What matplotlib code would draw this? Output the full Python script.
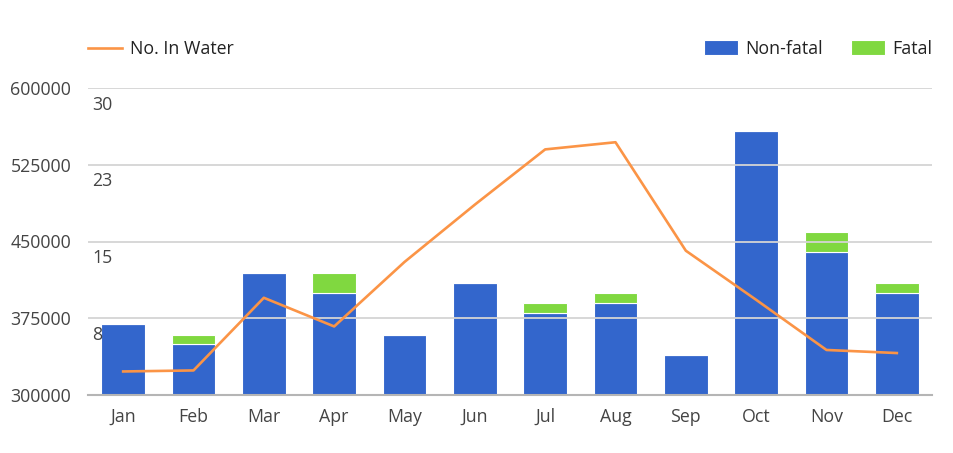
import matplotlib.pyplot as plt
import numpy as np

months = ["Jan", "Feb", "Mar", "Apr", "May", "Jun",
          "Jul", "Aug", "Sep", "Oct", "Nov", "Dec"]
non_fatal = [369000, 350000, 419000, 400000, 359000, 409000,
             380000, 390000, 339000, 558000, 440000, 400000]
fatal = [0, 9000, 0, 19000, 0, 0,
         9500, 9500, 0, 0, 19000, 9000]
in_water = [2.3, 2.4, 9.5, 6.7, 13.0, 18.6,
            24.0, 24.7, 14.1, 9.3, 4.4, 4.1]

left_ticks = [300000, 375000, 450000, 525000, 600000]
right_ticks = [7.5, 15, 22.5, 30]
right_labels = ["8", "15", "23", "30"]

BLUE = "#3366cc"
GREEN = "#80d840"
ORANGE = "#fb9446"
TEXT = "#444444"

plt.rcParams["font.family"] = ["Open Sans", "DejaVu Sans"]
plt.rcParams["font.size"] = 12.8

fig = plt.figure(figsize=(9.54, 4.53), dpi=100)
ax = fig.add_axes([88 / 954, 58 / 453, 844 / 954, 307 / 453])

x = np.arange(len(months))
b1 = ax.bar(x, non_fatal, width=0.62, color=BLUE, edgecolor="white",
            linewidth=0.8, zorder=2, label="Non-fatal")
b2 = ax.bar(x, fatal, width=0.62, bottom=non_fatal, color=GREEN,
            edgecolor="white", linewidth=0.8, zorder=2, label="Fatal")

ax.set_ylim(300000, 600000)
ax.set_xlim(-0.5, len(months) - 0.5)
ax.set_yticks(left_ticks)
ax.set_xticks(x, months)
ax.tick_params(axis="both", length=0, colors=TEXT)
ax.tick_params(axis="y", pad=12)
ax.tick_params(axis="x", pad=9)
for v in left_ticks[1:]:
    ax.axhline(v, color="#d4d4d4", linewidth=1.3, zorder=2.5)
for s in ["top", "right", "left"]:
    ax.spines[s].set_visible(False)
ax.spines["bottom"].set_color("#b5b5b5")
ax.spines["bottom"].set_linewidth(1.5)
ax.spines["bottom"].set_zorder(3)

ax2 = ax.twinx()
ax2.set_ylim(0, 30)
ax2.set_yticks([])
for s in ax2.spines.values():
    s.set_visible(False)
line, = ax2.plot(x, in_water, color=ORANGE, linewidth=1.9, label="No. In Water")
for v, lab in zip(right_ticks, right_labels):
    ax2.annotate(lab, xy=(0, v), xycoords=("axes fraction", "data"),
                 xytext=(3, -5.5), textcoords="offset points",
                 ha="left", va="top", color=TEXT)

leg1 = fig.legend(handles=[line], loc="center left",
                  bbox_to_anchor=(88 / 954, 1 - 49 / 453), frameon=False,
                  borderpad=0, borderaxespad=0, handlelength=1.9,
                  handletextpad=0.45, labelcolor="#222222")
leg2 = fig.legend(handles=[b1, b2], loc="center right",
                  bbox_to_anchor=(932 / 954, 1 - 49 / 453), frameon=False,
                  ncol=2, borderpad=0, borderaxespad=0, handlelength=1.9,
                  handleheight=0.9, handletextpad=0.4, columnspacing=1.6,
                  labelcolor="#222222")

fig.savefig("out.png", dpi=100)
